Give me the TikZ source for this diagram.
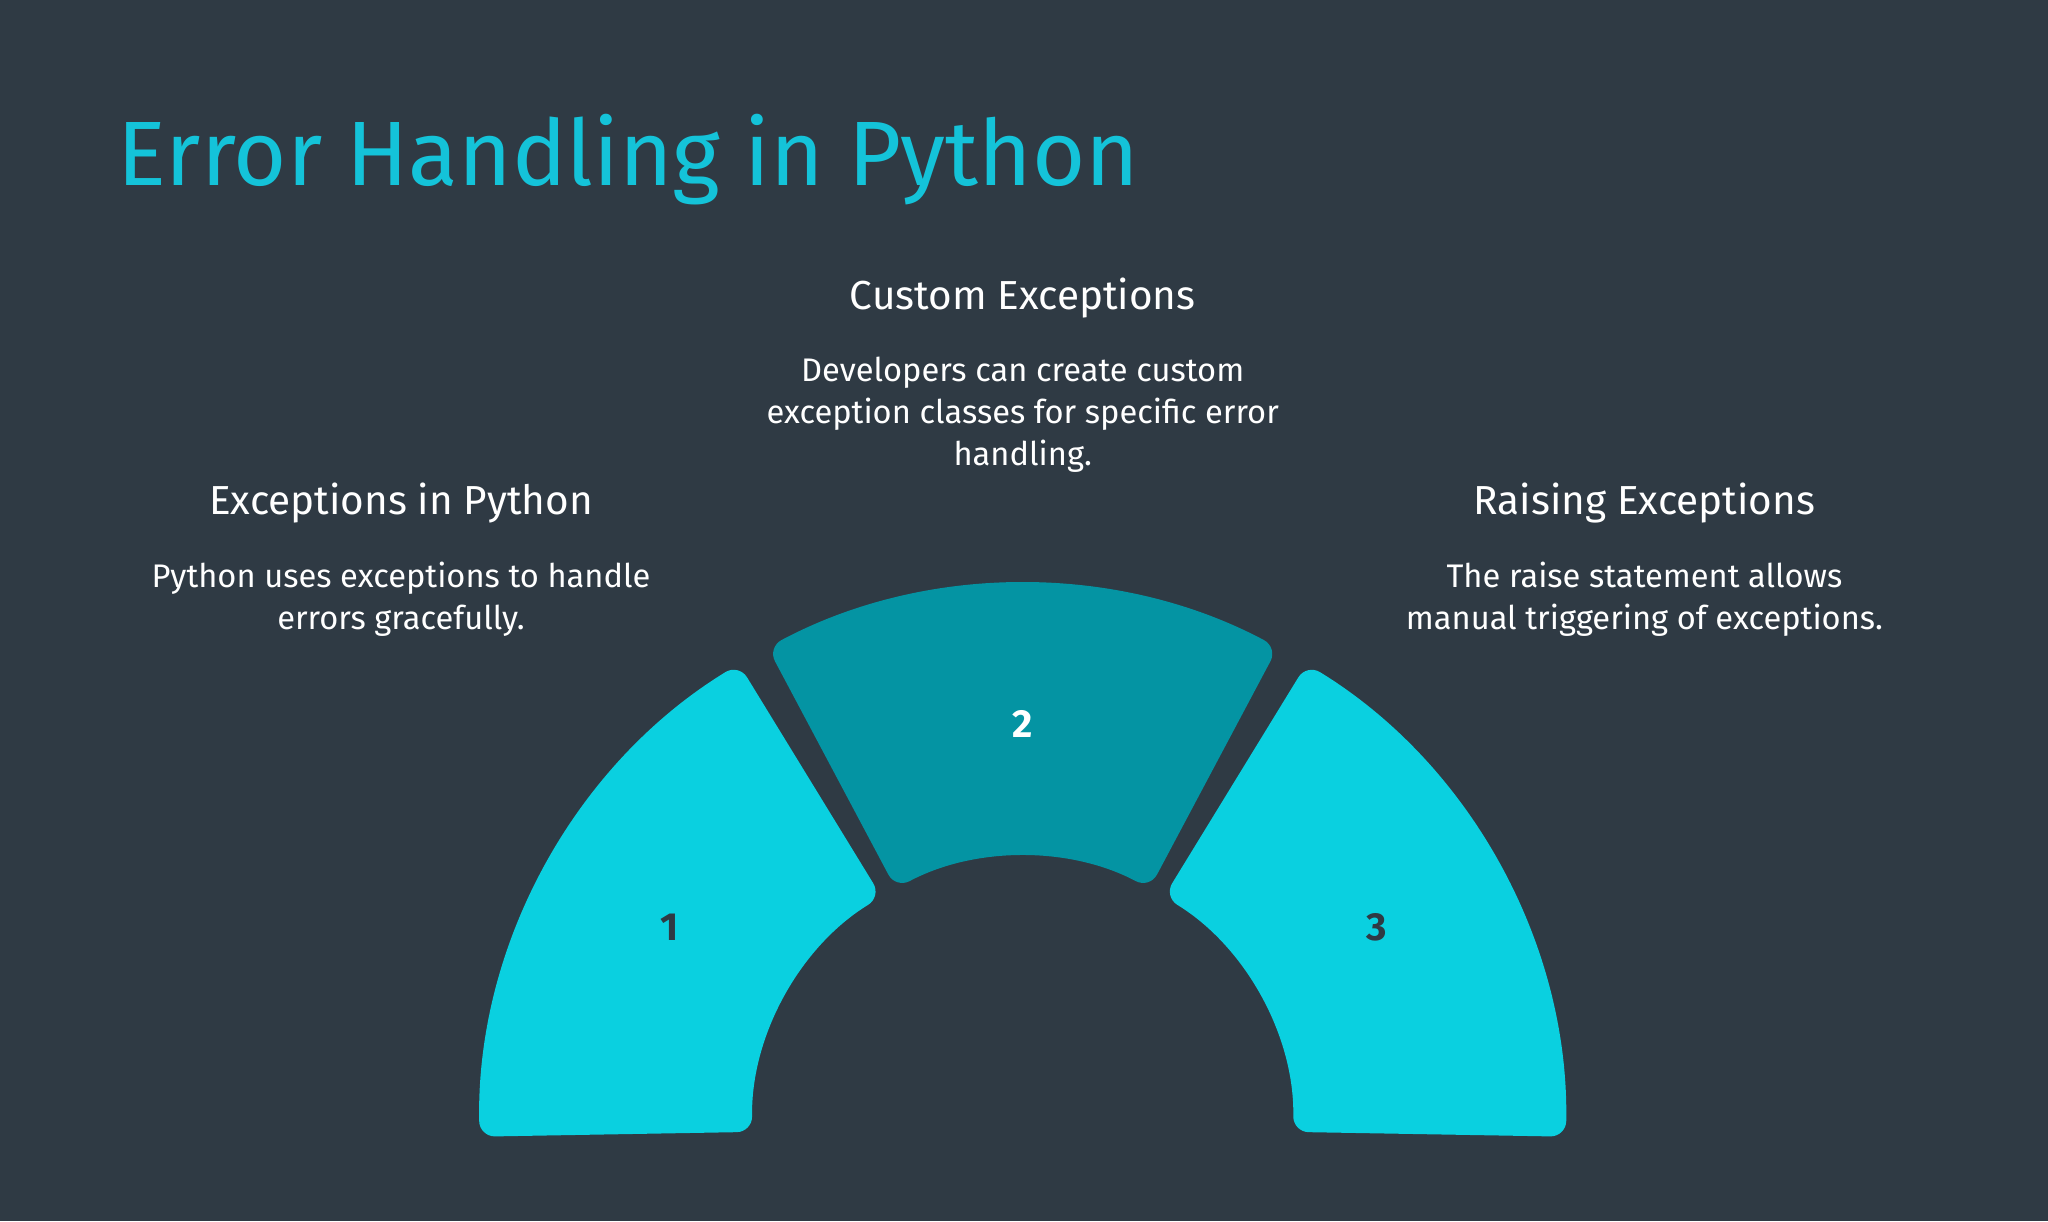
\documentclass[tikz,border=0pt]{standalone}
\usepackage{fontspec}
\setmainfont{Fira Sans}
\usetikzlibrary{calc}
\definecolor{bg}{HTML}{2F3A44}
\definecolor{cy}{HTML}{0AD0E0}
\definecolor{dk}{HTML}{0494A3}
\definecolor{tt}{HTML}{14C3D9}
\begin{document}
\begin{tikzpicture}[x=1pt,y=1pt,
 seg/.style={rounded corners=12pt},
 head/.style={text=white,font=\fontsize{31}{36}\selectfont,anchor=base},
 body/.style={text=white,font=\fontsize{25}{32}\selectfont,align=center,anchor=north},
 num/.style={font=\bfseries\fontsize{30}{34}\selectfont}]
\fill[bg] (0,0) rectangle (1568,935);
\useasboundingbox (0,0) rectangle (1568,935);
\node[text=tt,anchor=base west,font=\fontsize{70}{80}\selectfont,inner sep=0] (title) at (90,793) {Error Handling in Python};
\coordinate (c) at (783,72);
\fill[cy,seg] ($(c)+(181:416)$) arc (181:121.5:416) -- ($(c)+(121.5:207)$) arc (121.5:181:207) -- cycle;
\fill[dk,seg] ($(c)+(118:416)$) arc (118:62:416) -- ($(c)+(62:207)$) arc (62:118:207) -- cycle;
\fill[cy,seg] ($(c)+(58.5:416)$) arc (58.5:-1:416) -- ($(c)+(-1:207)$) arc (-1:58.5:207) -- cycle;
\node[num,text=bg] (n1) at (513,225) {1};
\node[num,text=white] (n2) at (783,381) {2};
\node[num,text=bg] (n3) at (1054,225) {3};
\node[head] (h1) at (307,541) {Exceptions in Python};
\node[body] (b1) at (307,508) {Python uses exceptions to handle\\errors gracefully.};
\node[head] (h2) at (783,698) {Custom Exceptions};
\node[body] (b2) at (783,665) {Developers can create custom\\exception classes for specific error\\handling.};
\node[head] (h3) at (1259,541) {Raising Exceptions};
\node[body] (b3) at (1259,508) {The raise statement allows\\manual triggering of exceptions.};
\end{tikzpicture}
\end{document}
